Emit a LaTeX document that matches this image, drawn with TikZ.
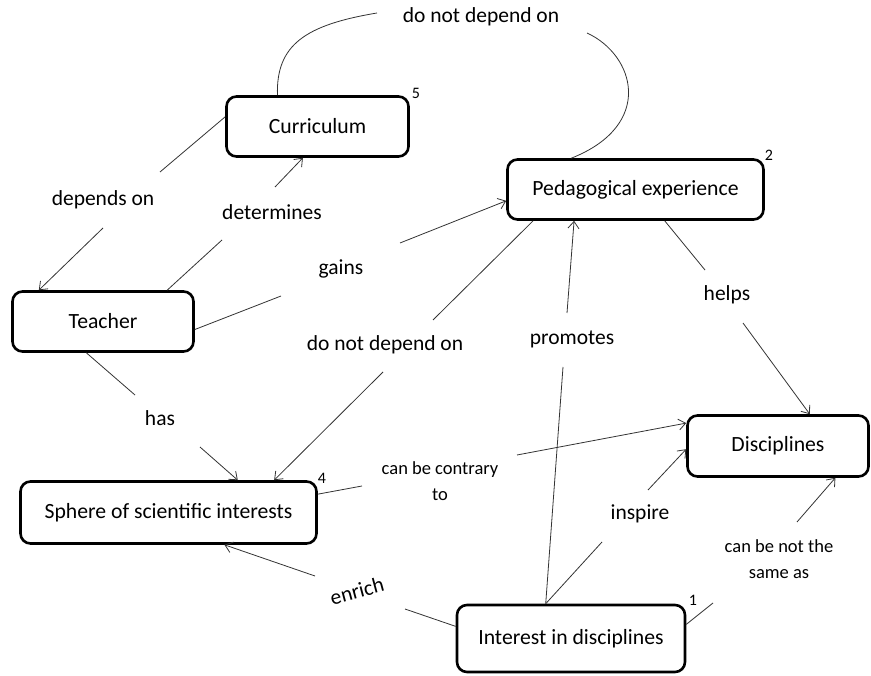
\documentclass[tikz,border=0pt]{standalone}
\usepackage{fontspec}
\setmainfont{Carlito}
\usetikzlibrary{arrows.meta}
\begin{document}
\begin{tikzpicture}[x=1pt,y=-1pt,
  box/.style={draw, line width=2.6pt, rounded corners=10pt, inner sep=0pt, font=\fontsize{21.7}{26}\selectfont},
  lbl/.style={inner sep=0pt, font=\fontsize{21.5}{26}\selectfont},
  slbl/.style={inner sep=0pt, align=center, font=\fontsize{18.5}{26}\selectfont},
  num/.style={inner sep=0pt, font=\fontsize{16}{18}\selectfont},
  conn/.style={line width=0.8pt, draw=black!80},
  arr/.style={conn, -{Straight Barb[length=7pt,width=11pt]}}]
\useasboundingbox (0,0) rectangle (871,676);

% boxes
\node[box, minimum width=182pt, minimum height=60pt] (cur) at (317.5,126.5) {Curriculum};
\node[box, minimum width=256pt, minimum height=60pt] (ped) at (635.5,189.5) {Pedagogical experience};
\node[box, minimum width=181pt, minimum height=60pt] (tea) at (103,321.5) {Teacher};
\node[box, minimum width=296pt, minimum height=62pt] (sph) at (168.5,512.5) {Sphere of scientific interests};
\node[box, minimum width=181pt, minimum height=61pt] (dis) at (778,446) {Disciplines};
\node[box, minimum width=228pt, minimum height=67pt] (int) at (571,638.5) {Interest in disciplines};

% numbers
\node[num] (n5) at (416,93) {5};
\node[num] (n2) at (769,155) {2};
\node[num] (n4) at (322,478) {4};
\node[num] (n1) at (693,600) {1};

% labels
\node[lbl] (l1) at (481,17) {do not depend on};
\node[lbl] (l2) at (103,200) {depends on};
\node[lbl] (l3) at (272,212) {determines};
\node[lbl] (l4) at (341,269) {gains};
\node[lbl] (l5) at (385,345) {do not depend on};
\node[lbl] (l6) at (160,418) {has};
\node[slbl] (l7) at (440,481) {can be contrary\\to};
\node[lbl] (l8) at (572,339) {promotes};
\node[lbl] (l9) at (727,295) {helps};
\node[lbl] (l10) at (640,514) {inspire};
\node[slbl] (l11) at (779,559) {can be not the\\same as};
\node[lbl, rotate=15] (l12) at (357,591) {enrich};

% free ends of connector segments
\coordinate (a1) at (377,13);   \coordinate (a2) at (587,33);
\coordinate (b1) at (160,172);  \coordinate (b2) at (103,228);
\coordinate (c1) at (222,240);  \coordinate (c2) at (275,187);
\coordinate (d1) at (281,296);  \coordinate (d2) at (400,243);
\coordinate (e1) at (433,320);  \coordinate (e2) at (383,372);
\coordinate (f1) at (135,395);  \coordinate (f2) at (200,447);
\coordinate (g1) at (362,486);  \coordinate (g2) at (517,455);
\coordinate (h1) at (563,367);  \coordinate (h2) at (567,313);
\coordinate (i1) at (705,270);  \coordinate (i2) at (743,323);
\coordinate (j1) at (602,542);  \coordinate (j2) at (648,490);
\coordinate (k1) at (713,603);  \coordinate (k2) at (797,522);
\coordinate (m1) at (405,609);  \coordinate (m2) at (315,576);

% connectors
\draw[conn] (cur.142) .. controls (276,45) and (305,25) .. (a1);
\draw[conn] (a2) .. controls (635,55) and (655,125) .. (ped.154);

\draw[conn] (cur.174) -- (b1);
\draw[arr] (b2) -- (tea.154);

\draw[conn] (tea.26) -- (c1);
\draw[arr] (c2) -- (cur.245);

\draw[conn] (tea.355) -- (d1);
\draw[arr] (d2) -- (ped.185);

\draw[conn] (ped.197) -- (e1);
\draw[arr] (e2) -- (sph.17.5);

\draw[conn] (tea.242) -- (f1);
\draw[arr] (f2) -- (sph.25);

\draw[conn] (sph.7) -- (g1);
\draw[arr] (g2) -- (dis.166);

\draw[conn] (int.126) -- (h1);
\draw[arr] (h2) -- (ped.207);

\draw[conn] (ped.313) -- (i1);
\draw[arr] (i2) -- (dis.45);

\draw[conn] (int.126) -- (j1);
\draw[arr] (j2) -- (dis.182);

\draw[conn] (int.7) -- (k1);
\draw[arr] (k2) -- (dis.331);

\draw[conn] (int.174) -- (m1);
\draw[arr] (m2) -- (sph.330);
\end{tikzpicture}
\end{document}
